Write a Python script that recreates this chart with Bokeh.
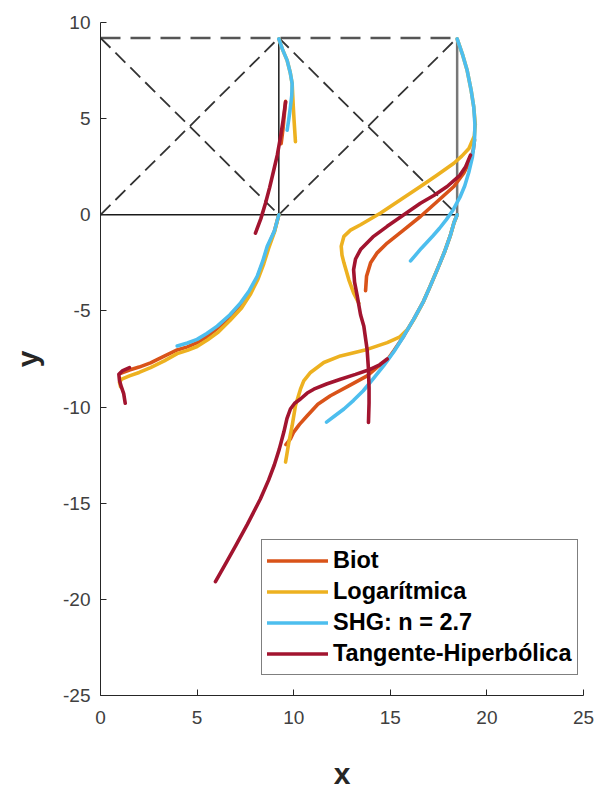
from bokeh.plotting import figure
from bokeh.models import Range1d, FixedTicker, Legend, LegendItem
from bokeh.embed import file_html
from bokeh.resources import INLINE

N = float("nan")

# ---- truss geometry (data units) ----
L1 = 9.23
L2 = 18.46
H = 9.2
truss_dashed_top_x = [0, L2]
truss_dashed_top_y = [H, H]
truss_diag_x = [0, L1, N, 0, L1, N, L1, L2, N, L1, L2]
truss_diag_y = [H, 0, N, 0, H, N, 0, H, N, H, 0]
truss_solid_x = [0, L2, N, L1, L1]
truss_solid_y = [0, 0, N, 0, H]
truss_right_x = [L2, L2]
truss_right_y = [0, H]

# ---- series (segments separated by NaN) ----
biot_x = [9.58, 9.45, 9.35, N,
          9.23, 9.0, 8.65, 8.4, 8.1, 7.7, 7.2, 6.6, 6.0, 5.5, 5.0, 4.5, 3.97, 3.3, 2.59, 2.0, 1.5, 1.04, N,
          19.36, 19.3, 19.15, 18.8, 18.29, 17.43, 16.56, 15.7, 14.84, 14.32, 13.98, 13.77, 13.72, N,
          18.46, 18.3, 18.1, 17.8, 17.43, 17.05, 16.72, 16.2, 15.7, 15.2, 14.84, 14.3, 13.8, 12.85, 11.9,
          11.25, 10.7, 10.3, 10.0, 9.83, 9.6]
biot_y = [5.9, 4.5, 3.7, N,
          0.0, -0.85, -1.7, -2.5, -3.3, -4.05, -4.75, -5.4, -5.95, -6.35, -6.65, -6.87, -7.03, -7.35, -7.7, -7.92, -8.07, -8.25, N,
          3.9, 3.4, 2.85, 2.16, 1.47, 0.69, -0.09, -0.78, -1.47, -1.98, -2.5, -3.2, -3.95, N,
          0.0, -0.4, -1.1, -1.95, -2.85, -3.75, -4.5, -5.45, -6.3, -7.05, -7.55, -7.95, -8.38, -8.9, -9.41,
          -9.85, -10.45, -10.9, -11.3, -11.66, -11.95]

log_x = [9.23, 9.42, 9.66, 9.82, 9.92, 9.95, 9.98, 10.02, 10.09, N,
         9.23, 9.02, 8.7, 8.45, 8.15, 7.75, 7.3, 6.7, 6.1, 5.55, 5.0, 4.5, 3.97, 3.3, 2.59, 2.0, 1.5, 1.1, 0.98, 1.04, N,
         18.46, 18.75, 18.98, 19.18, 19.32, 19.4, 19.35, 19.07, 18.7, 18.29, 17.43, 16.56, 15.53, 14.5, 13.46,
         12.94, 12.6, 12.46, 12.5, 12.6, 12.85, 13.1, 13.37, N,
         18.46, 18.3, 18.1, 17.8, 17.43, 17.05, 16.72, 16.3, 15.9, 15.5, 14.84, 13.8, 12.42, 11.56, 10.87,
         10.52, 10.35, 10.09, 9.92, 9.75, 9.58]
log_y = [9.15, 8.6, 8.03, 7.4, 6.82, 6.2, 5.6, 4.9, 3.8, N,
         0.0, -0.85, -1.75, -2.55, -3.35, -4.15, -4.85, -5.5, -6.1, -6.5, -6.85, -7.05, -7.22, -7.6, -7.95, -8.2, -8.38, -8.55, -8.7, -8.95, N,
         9.15, 8.3, 7.5, 6.5, 5.6, 4.7, 4.1, 3.45, 3.05, 2.68, 2.07, 1.47, 0.78, 0.09, -0.52,
         -0.8, -1.12, -1.64, -2.1, -2.5, -3.37, -4.06, -4.6, N,
         0.0, -0.4, -1.1, -1.95, -2.85, -3.75, -4.5, -5.3, -5.95, -6.35, -6.65, -7.0, -7.34, -7.68, -8.2,
         -8.64, -9.07, -9.93, -10.97, -11.83, -12.86]

shg_x = [9.23, 9.42, 9.66, 9.82, 9.92, 9.9, 9.83, 9.75, 9.66, N,
         9.23, 9.0, 8.63, 8.4, 8.11, 7.7, 7.25, 6.7, 6.04, 5.5, 5.0, 4.5, 3.97, N,
         18.46, 18.75, 18.98, 19.18, 19.32, 19.38, 19.36, 19.25, 19.06, 18.85, 18.6, 18.25, 17.9, 17.55, 17.2, 16.6, 16.05, N,
         18.46, 18.3, 18.1, 17.8, 17.43, 17.05, 16.72, 16.2, 15.7, 15.2, 14.65, 14.1, 13.6, 13.1, 12.6, 12.1, 11.7]
shg_y = [9.15, 8.6, 8.03, 7.4, 6.82, 6.2, 5.61, 5.0, 4.4, N,
         0.0, -0.85, -1.64, -2.4, -3.2, -3.95, -4.58, -5.2, -5.79, -6.17, -6.48, -6.67, -6.82, N,
         9.15, 8.3, 7.5, 6.5, 5.6, 4.7, 3.9, 3.0, 2.2, 1.5, 0.9, 0.25, -0.25, -0.7, -1.1, -1.75, -2.4, N,
         0.0, -0.4, -1.1, -1.95, -2.85, -3.75, -4.5, -5.45, -6.3, -7.1, -7.86, -8.55, -9.15, -9.65, -10.1, -10.48, -10.78]

th_x = [9.58, 9.45, 9.32, 9.15, 8.97, 8.75, 8.54, 8.3, 8.02, N,
        1.5, 1.15, 0.95, 0.98, 1.08, 1.2, 1.28, N,
        19.15, 18.9, 18.6, 17.94, 17.25, 16.56, 15.7, 14.84, 14.1, 13.46, 13.2, 13.1, 13.15, 13.29, 13.46,
        13.63, 13.8, 13.87, 13.9, 13.9, 13.87, N,
        5.95, 6.5, 7.0, 7.6, 8.28, 8.7, 9.0, 9.25, 9.49, 9.65, 9.83, 10.05, 10.35, 10.7, 11.04, 11.7,
        12.42, 13.2, 13.98, 14.45, 14.84]
th_y = [5.87, 4.9, 4.06, 3.1, 2.33, 1.4, 0.6, -0.2, -0.95, N,
        -7.95, -8.1, -8.3, -8.6, -8.95, -9.3, -9.8, N,
        3.1, 2.5, 2.05, 1.47, 1.0, 0.6, 0.0, -0.6, -1.15, -1.81, -2.3, -2.85, -3.5, -4.23, -5.2,
        -5.8, -7.0, -8.03, -9.0, -9.8, -10.8, N,
        -19.08, -18.1, -17.2, -16.1, -14.77, -13.8, -13.0, -12.2, -11.3, -10.6, -10.1, -9.8, -9.58, -9.27, -9.07, -8.8,
        -8.55, -8.3, -8.03, -7.8, -7.5]

labels = ["Biot", "Logarítmica", "SHG: n = 2.7", "Tangente-Hiperbólica"]
colors = ["#D95319", "#EDB120", "#4DBEEE", "#A2142F"]
xticks = [0, 5, 10, 15, 20, 25]
yticks = [-25, -20, -15, -10, -5, 0, 5, 10]

p = figure(width=603, height=792, output_backend="svg", toolbar_location=None,
           x_range=Range1d(0, 25), y_range=Range1d(-25, 10),
           min_border_left=100, min_border_right=20, min_border_top=22, min_border_bottom=94)
p.outline_line_color = None
p.grid.visible = False
p.background_fill_color = "white"
p.border_fill_color = "white"

FONT = "Liberation Sans"
for ax, ticks in ((p.xaxis[0], xticks), (p.yaxis[0], yticks)):
    ax.ticker = FixedTicker(ticks=ticks)
    ax.major_label_overrides = {t: str(t) for t in ticks}
    ax.major_tick_in = 6
    ax.major_tick_out = 0
    ax.minor_tick_line_color = None
    ax.axis_line_color = "#262626"
    ax.major_tick_line_color = "#262626"
    ax.major_label_text_font = FONT
    ax.major_label_text_font_size = "19px"
    ax.major_label_text_color = "#404040"
    ax.axis_label_text_font = FONT
    ax.axis_label_text_font_style = "bold"
    ax.axis_label_text_font_size = "30px"
    ax.axis_label_text_color = "#262626"
p.xaxis.axis_label = "x"
p.yaxis.axis_label = "y"
p.xaxis.major_label_standoff = 15
p.yaxis.major_label_standoff = 10
p.xaxis.axis_label_standoff = 30
p.yaxis.axis_label_standoff = 16

# truss
p.line(truss_dashed_top_x, truss_dashed_top_y, line_color="#555555", line_width=2.5, line_dash="20 10")
p.line(truss_diag_x, truss_diag_y, line_color="#333333", line_width=1.8, line_dash="14 7")
p.line(truss_solid_x, truss_solid_y, line_color="#1a1a1a", line_width=1.5)
p.line(truss_right_x, truss_right_y, line_color="#777777", line_width=2.5)

items = []
for xs, ys, lab, col in ((biot_x, biot_y, labels[0], colors[0]),
                         (log_x, log_y, labels[1], colors[1]),
                         (shg_x, shg_y, labels[2], colors[2]),
                         (th_x, th_y, labels[3], colors[3])):
    r = p.line(xs, ys, line_color=col, line_width=3.6, line_join="round", line_cap="round")
    items.append(LegendItem(label=lab, renderers=[r]))

leg = Legend(items=items, location=(161, 20))
leg.label_text_font = FONT
leg.label_text_font_style = "bold"
leg.label_text_font_size = "23.5px"
leg.label_text_color = "black"
leg.glyph_width = 61
leg.glyph_height = 31
leg.label_height = 31
leg.label_standoff = 5
leg.spacing = 0
leg.padding = 5
leg.margin = 0
leg.border_line_color = "black"
leg.border_line_width = 1
leg.background_fill_color = "white"
leg.background_fill_alpha = 1
p.add_layout(leg, "center")

open("out.html", "w").write(file_html(p, INLINE))
